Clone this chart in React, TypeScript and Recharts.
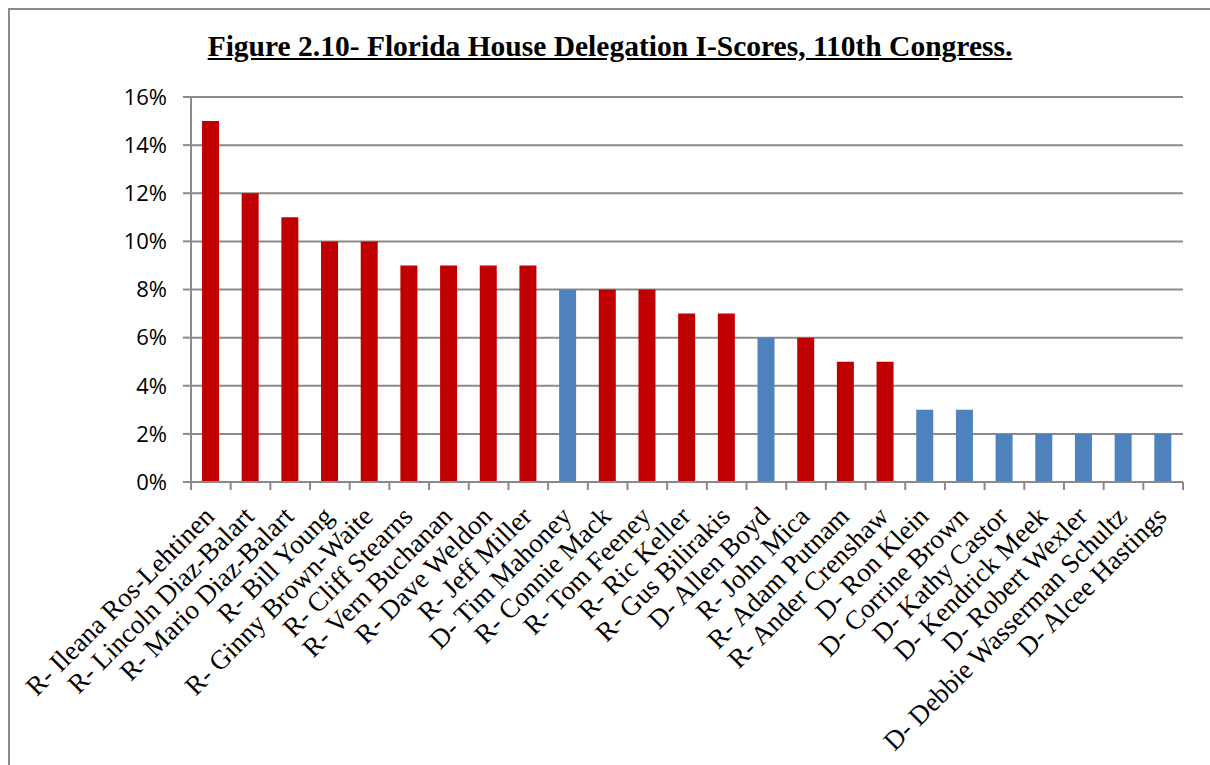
import { BarChart, Bar, XAxis, YAxis, CartesianGrid, Cell } from 'recharts'

const members = [
  'R- Ileana Ros-Lehtinen', 'R- Lincoln Diaz-Balart', 'R- Mario Diaz-Balart', 'R- Bill Young',
  'R- Ginny Brown-Waite', 'R- Cliff Stearns', 'R- Vern Buchanan', 'R- Dave Weldon', 'R- Jeff Miller',
  'D- Tim Mahoney', 'R- Connie Mack', 'R- Tom Feeney', 'R- Ric Keller', 'R- Gus Bilirakis',
  'D- Allen Boyd', 'R- John Mica', 'R- Adam Putnam', 'R- Ander Crenshaw', 'D- Ron Klein',
  'D- Corrine Brown', 'D- Kathy Castor', 'D- Kendrick Meek', 'D- Robert Wexler',
  'D- Debbie Wasserman Schultz', 'D- Alcee Hastings',
]
const iScores = [15, 12, 11, 10, 10, 9, 9, 9, 9, 8, 8, 8, 7, 7, 6, 6, 5, 5, 3, 3, 2, 2, 2, 2, 2]
const yTicks = [0, 2, 4, 6, 8, 10, 12, 14, 16]

const data = members.map((name, i) => ({ name, score: iScores[i] }))

const W = 1200
const H = 753
const M = { top: 87, right: 27, left: 0, bottom: 81 }
const Y_W = 181
const BAND = (W - M.left - M.right - Y_W) / members.length
const GRAY = '#8a8a8a'

function XTick(props: any) {
  const { x, y, payload, index } = props
  const tx = x + 5
  const ty = y + 36
  return (
    <g>
      <line x1={x - BAND / 2} x2={x - BAND / 2} y1={y} y2={y + 8} stroke={GRAY} strokeWidth={2} />
      {index === members.length - 1 && (
        <line x1={x + BAND / 2} x2={x + BAND / 2} y1={y} y2={y + 8} stroke={GRAY} strokeWidth={2} />
      )}
      <text x={tx} y={ty} textAnchor="end" transform={`rotate(-45, ${tx}, ${ty})`}
        fontFamily="'Liberation Serif', serif" fontSize={27} fill="#000">
        {payload.value}
      </text>
    </g>
  )
}

export default function App() {
  return (
    <div style={{
      position: 'fixed', left: 8, top: 8, width: 1210, height: 770,
      borderTop: `2px solid ${GRAY}`, borderLeft: `2px solid ${GRAY}`, background: '#fff',
    }}>
      <div style={{
        position: 'absolute', left: 0, width: 1200, top: 20, textAlign: 'center',
        fontFamily: "'Liberation Serif', serif", fontWeight: 'bold', fontSize: 29.5,
        textDecoration: 'underline', color: '#000',
      }}>
        Figure 2.10- Florida House Delegation I-Scores, 110th Congress.
      </div>
      <div style={{ position: 'absolute', left: 0, top: 0 }}>
        <BarChart width={W} height={H} data={data} margin={M} barSize={17}>
          <CartesianGrid vertical={false} stroke={GRAY} strokeWidth={2} />
          <XAxis dataKey="name" interval={0} height={200} tickSize={0} tickMargin={0}
            axisLine={{ stroke: GRAY, strokeWidth: 2 }} tickLine={false} tick={<XTick />} />
          <YAxis width={Y_W} domain={[0, 16]} ticks={yTicks} interval={0}
            tickFormatter={(v: number) => `${v}%`} tickSize={8} tickMargin={16}
            axisLine={{ stroke: GRAY, strokeWidth: 2 }} tickLine={{ stroke: GRAY, strokeWidth: 2 }}
            tick={{ fontFamily: "'Open Sans', sans-serif", fontSize: 22, fill: '#000' }} />
          <Bar dataKey="score" isAnimationActive={false}>
            {data.map((d) => (
              <Cell key={d.name} fill={d.name.startsWith('R') ? '#C00000' : '#4F81BD'} />
            ))}
          </Bar>
        </BarChart>
      </div>
    </div>
  )
}
